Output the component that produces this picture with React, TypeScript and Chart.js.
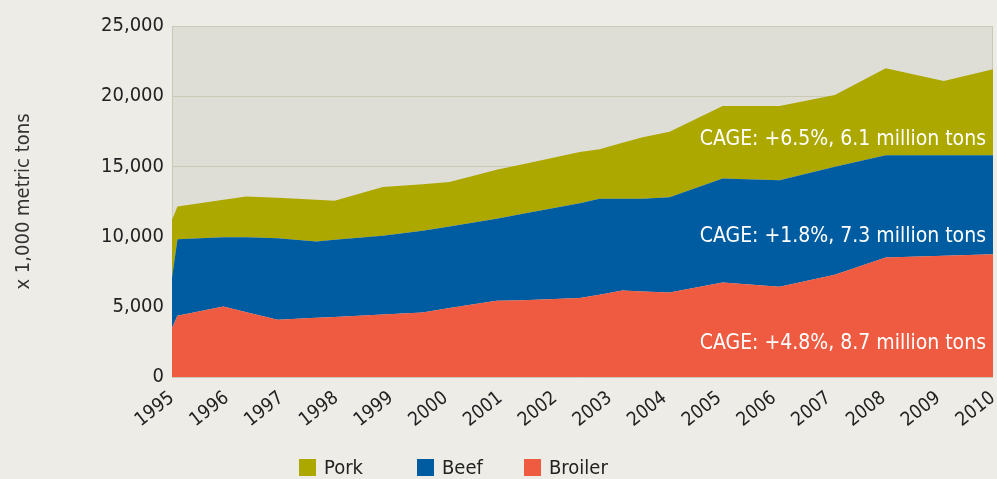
import React, { useEffect, useRef } from "react";
import { Chart, registerables } from "chart.js";

Chart.register(...registerables);

// x positions (in years) of the vertices
const positions = [
  1995.0, 1995.1, 1995.94, 1996.36, 1996.93, 1997.64, 1997.97, 1998.85, 1999.58, 2000.07,
  2000.93, 2001.41, 2002.45, 2002.81, 2003.23, 2003.6, 2004.09, 2005.06, 2006.1, 2007.11,
  2008.04, 2009.1, 2010.0,
];
// thousand metric tons
const broiler = [
  3490, 4360, 5020, 4620, 4080, 4220, 4280, 4460, 4600, 4910, 5430, 5470, 5620, 5860, 6160,
  6090, 6020, 6730, 6430, 7280, 8510, 8630, 8750,
];
const beef = [
  3580, 5460, 4930, 5340, 5800, 5430, 5490, 5600, 5810, 5810, 5840, 6150, 6750, 6830, 6530,
  6600, 6790, 7400, 7590, 7690, 7290, 7170, 7050,
];
const pork = [
  4130, 2320, 2670, 2890, 2880, 2970, 2780, 3470, 3320, 3160, 3490, 3540, 3660, 3540, 3990,
  4380, 4650, 5170, 5290, 5120, 6190, 5290, 6120,
];

const seriesNames = ["Broiler", "Beef", "Pork"];
const seriesColors = ["#EF5B41", "#005CA0", "#ADA800"];

const cageLabels = [
  "CAGE: +6.5%, 6.1 million tons",
  "CAGE: +1.8%, 7.3 million tons",
  "CAGE: +4.8%, 8.7 million tons",
];
const cageValues = [16900, 10000, 2370];

const legendNames = ["Pork", "Beef", "Broiler"];
const legendColors = ["#ADA800", "#005CA0", "#EF5B41"];
const legendLefts = [299, 417, 524];

const FONT = '"DejaVu Sans Condensed", "DejaVu Sans", sans-serif';

const bgPlugin = {
  id: "plotBg",
  beforeDraw(chart: any) {
    const { ctx, chartArea: a } = chart;
    ctx.save();
    ctx.fillStyle = "#DFDED6";
    ctx.fillRect(a.left, a.top, a.right - a.left, a.bottom - a.top);
    ctx.strokeStyle = "#C9C9B4";
    ctx.lineWidth = 1;
    ctx.strokeRect(a.left + 0.5, a.top + 0.5, a.right - a.left - 1, a.bottom - a.top - 1);
    ctx.restore();
  },
};

const cagePlugin = {
  id: "cage",
  afterDatasetsDraw(chart: any) {
    const { ctx, chartArea: a, scales } = chart;
    ctx.save();
    ctx.fillStyle = "#FFFFFF";
    ctx.font = `21px ${FONT}`;
    ctx.textAlign = "right";
    ctx.textBaseline = "middle";
    cageLabels.forEach((t, i) => {
      ctx.fillText(t, a.right - 7, scales.y.getPixelForValue(cageValues[i]));
    });
    ctx.restore();
  },
};

export default function App() {
  const ref = useRef<HTMLCanvasElement>(null);
  useEffect(() => {
    if (!ref.current) return;
    const series = [broiler, beef, pork];
    const chart = new Chart(ref.current, {
      type: "line",
      data: {
        datasets: series.map((s, k) => ({
          label: seriesNames[k],
          data: positions.map((x, i) => ({ x, y: s[i] })),
          backgroundColor: seriesColors[k],
          borderColor: seriesColors[k],
          borderWidth: 0,
          pointRadius: 0,
          tension: 0,
          fill: k === 0 ? "origin" : "-1",
        })),
      },
      options: {
        animation: false,
        responsive: false,
        maintainAspectRatio: false,
        layout: { padding: { top: 26, right: 4, left: 0, bottom: 0 } },
        plugins: { legend: { display: false }, tooltip: { enabled: false } },
        scales: {
          x: {
            type: "linear",
            min: 1995,
            max: 2010,
            grid: { display: false },
            border: { display: false },
            ticks: {
              stepSize: 1,
              autoSkip: false,
              maxRotation: 38,
              minRotation: 38,
              padding: 2,
              color: "#222",
              font: { family: FONT, size: 19 },
              callback: (v: any) => String(v),
            },
            afterFit: (s: any) => {
              s.height = 102;
              s.paddingLeft = 0;
              s.paddingRight = 0;
            },
          },
          y: {
            stacked: true,
            min: 0,
            max: 25000,
            grid: { color: "#C9C9B4", drawTicks: false },
            border: { display: false },
            ticks: {
              stepSize: 5000,
              padding: 8,
              color: "#222",
              font: { family: FONT, size: 20 },
              callback: (v: any) => Number(v).toLocaleString("en-US"),
            },
            title: {
              display: true,
              text: "x 1,000 metric tons",
              color: "#333",
              font: { family: FONT, size: 20 },
              padding: { top: 12, bottom: 0 },
            },
            afterFit: (s: any) => {
              s.width = 172;
            },
          },
        },
      } as any,
      plugins: [bgPlugin, cagePlugin],
    });
    return () => chart.destroy();
  }, []);

  return (
    <div
      style={{
        position: "absolute",
        left: 0,
        top: 0,
        width: 997,
        height: 479,
        background: "#EDECE7",
        overflow: "hidden",
      }}
    >
      <canvas ref={ref} width={997} height={479} style={{ width: 997, height: 479, display: "block" }} />
      {legendNames.map((n, i) => (
        <div
          key={n}
          style={{
            position: "absolute",
            left: legendLefts[i],
            top: 457,
            height: 20,
            display: "flex",
            alignItems: "center",
            fontFamily: FONT,
            fontSize: 20,
            color: "#222",
            whiteSpace: "nowrap",
          }}
        >
          <span style={{ display: "inline-block", width: 17, height: 17, background: legendColors[i], marginRight: 8 }} />
          {n}
        </div>
      ))}
    </div>
  );
}
